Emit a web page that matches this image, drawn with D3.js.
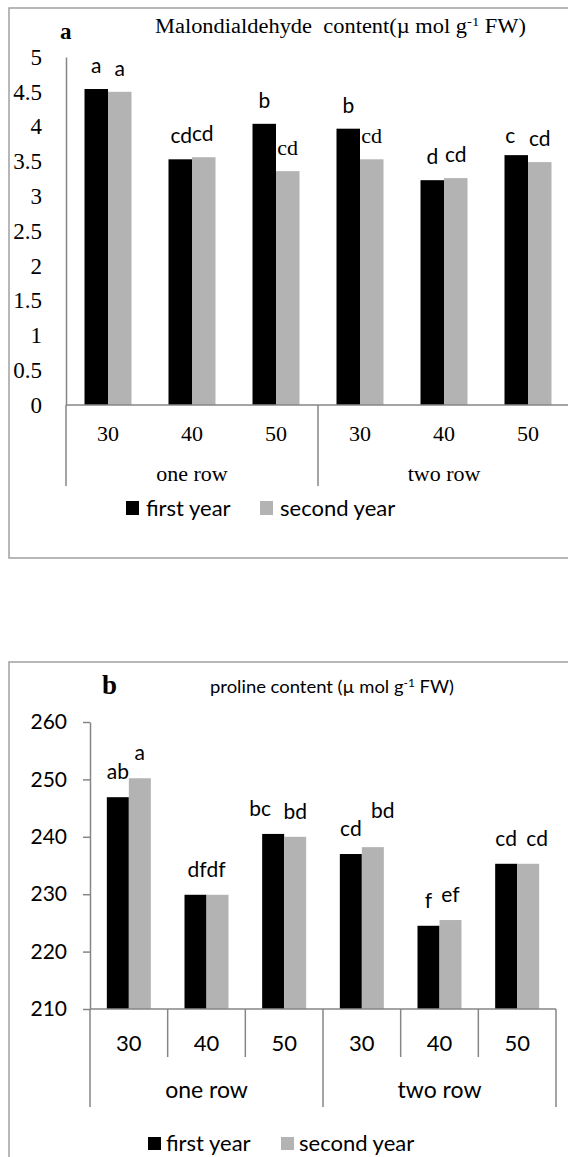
<!DOCTYPE html>
<html>
<head>
<meta charset="utf-8">
<script src="https://cdn.jsdelivr.net/npm/d3@7"></script>
<style>
  body { margin: 0; background: #fff; }
  svg { display: block; }
  .serif { font-family: "Liberation Serif", "Times New Roman", serif; }
  .sans { font-family: Lato, "Open Sans", sans-serif; }
</style>
</head>
<body>
<svg id="fig" width="568" height="1157"></svg>
<script>
// data
var groups = ["one row", "two row"];
var spacings = ["30", "40", "50", "30", "40", "50"];
var years = ["first year", "second year"];

var mdaFirst = [4.54, 3.53, 4.04, 3.97, 3.23, 3.59];
var mdaSecond = [4.50, 3.56, 3.36, 3.53, 3.26, 3.49];
var mdaLetFirst = ["a", "cd", "b", "b", "d", "c"];
var mdaLetSecond = ["a", "cd", "cd", "cd", "cd", "cd"];
var mdaTicks = [0, 0.5, 1, 1.5, 2, 2.5, 3, 3.5, 4, 4.5, 5];

var proFirst = [246.9, 229.9, 240.5, 237.0, 224.5, 235.3];
var proSecond = [250.2, 229.9, 240.0, 238.2, 225.5, 235.3];
var proLetFirst = ["ab", "df", "bc", "cd", "f", "cd"];
var proLetSecond = ["a", "df", "bd", "bd", "ef", "cd"];
var proTicks = [210, 220, 230, 240, 250, 260];

var colors = { "first year": "#000000", "second year": "#b3b3b3" };
var axisGrey = "#868686";

// hand placed letters in the source figure: [dx, dy] nudges, keyed group-year
var nudgeA = { "1-0": [1, 0], "1-1": [-1, 0], "5-0": [-6, 4] };
var nudgeB = { "1-0": [1.5, 0], "1-1": [-1.5, 0], "2-0": [-13, 0], "3-1": [10, -11], "5-1": [9, 0] };

var svg = d3.select("#fig");

function rows(first, second, letFirst, letSecond) {
  return spacings.map(function(s, i) {
    return {
      i: i,
      vals: [
        { i: i, k: 0, year: years[0], v: first[i], lab: letFirst[i] },
        { i: i, k: 1, year: years[1], v: second[i], lab: letSecond[i] }
      ]
    };
  });
}
function nud(map, d, j) { var n = map[d.i + "-" + d.k]; return n ? n[j] : 0; }

// ---------- chart a : malondialdehyde ----------
(function() {
  var g = svg.append("g");
  g.append("rect").attr("x", 9).attr("y", 8).attr("width", 620).attr("height", 550)
    .attr("fill", "none").attr("stroke", "#a0a0a0").attr("stroke-width", 1.5);

  var y = d3.scaleLinear().domain([0, 5]).range([405, 57]);
  var x0 = d3.scaleBand().domain(d3.range(6)).range([66, 570]);
  var x1 = d3.scaleBand().domain(years).range([-23.5, 23.5]);

  var yAxis = d3.axisLeft(y).tickValues(mdaTicks).tickFormat(d3.format("~g"))
    .tickSizeInner(0).tickSizeOuter(0).tickPadding(24);
  var ya = g.append("g").attr("transform", "translate(66,0)").call(yAxis);
  ya.select(".domain").attr("stroke", axisGrey).attr("stroke-width", 1.5);
  ya.selectAll("text").attr("class", "serif").attr("font-size", 23).attr("fill", "#000");

  var data = rows(mdaFirst, mdaSecond, mdaLetFirst, mdaLetSecond);
  var grp = g.selectAll(".grp").data(data).enter().append("g")
    .attr("transform", function(d) { return "translate(" + (x0(d.i) + x0.bandwidth() / 2) + ",0)"; });
  grp.selectAll("rect").data(function(d) { return d.vals; }).enter().append("rect")
    .attr("x", function(d) { return x1(d.year); })
    .attr("width", x1.bandwidth())
    .attr("y", function(d) { return y(d.v); })
    .attr("height", function(d) { return y(0) - y(d.v); })
    .attr("fill", function(d) { return colors[d.year]; });

  // letters above bars; two of them were set in Times in the source
  var serifLab = { "2-1": true, "3-1": true };
  grp.selectAll("text").data(function(d) { return d.vals; }).enter().append("text")
    .attr("class", function(d) { return serifLab[d.i + "-" + d.k] ? "serif" : "sans"; })
    .attr("x", function(d) { return x1(d.year) + x1.bandwidth() / 2 + nud(nudgeA, d, 0); })
    .attr("y", function(d) { return y(d.v) - 16 + nud(nudgeA, d, 1); })
    .attr("text-anchor", "middle")
    .attr("font-size", function(d) { return serifLab[d.i + "-" + d.k] ? 22 : 21; })
    .text(function(d) { return d.lab; });

  // baseline and category axis
  g.append("line").attr("x1", 66).attr("x2", 568).attr("y1", y(0)).attr("y2", y(0))
    .attr("stroke", axisGrey).attr("stroke-width", 1.5);
  [0, 3].forEach(function(k) {
    g.append("line").attr("x1", x0(k)).attr("x2", x0(k)).attr("y1", y(0)).attr("y2", 486)
      .attr("stroke", axisGrey).attr("stroke-width", 1.5);
  });
  g.selectAll(".xl").data(spacings).enter().append("text").attr("class", "serif")
    .attr("x", function(d, i) { return x0(i) + x0.bandwidth() / 2; })
    .attr("y", 433).attr("dy", "0.35em").attr("text-anchor", "middle").attr("font-size", 22)
    .text(function(d) { return d; });
  g.selectAll(".gl").data(groups).enter().append("text").attr("class", "serif")
    .attr("x", function(d, i) { return (x0(i * 3) + x0(i * 3 + 2) + x0.bandwidth()) / 2; })
    .attr("y", 473).attr("dy", "0.35em").attr("text-anchor", "middle").attr("font-size", 22)
    .text(function(d) { return d; });

  // legend
  var lx = [126, 260];
  var leg = g.selectAll(".leg").data(years).enter().append("g")
    .attr("transform", function(d, i) { return "translate(" + lx[i] + ",501)"; });
  leg.append("rect").attr("width", 13).attr("height", 14).attr("fill", function(d) { return colors[d]; });
  leg.append("text").attr("class", "sans").attr("x", 20).attr("y", 7).attr("dy", "0.35em")
    .attr("font-size", 22).text(function(d) { return d; });

  // titles
  g.append("text").attr("class", "serif").attr("x", 60).attr("y", 39)
    .attr("font-size", 23).attr("font-weight", "bold").text("a");
  var t = g.append("text").attr("class", "serif").attr("x", 155).attr("y", 33).attr("font-size", 20)
    .attr("textLength", 371).attr("lengthAdjust", "spacingAndGlyphs");
  t.append("tspan").text("Malondialdehyde\u00a0 content(\u00b5 mol g");
  t.append("tspan").attr("font-size", 13).attr("dy", -7).text("-1");
  t.append("tspan").attr("dy", 7).text(" FW)");
})();

// ---------- chart b : proline ----------
(function() {
  var g = svg.append("g");
  g.append("rect").attr("x", 9).attr("y", 662).attr("width", 620).attr("height", 600)
    .attr("fill", "none").attr("stroke", "#a0a0a0").attr("stroke-width", 1.5);

  var y = d3.scaleLinear().domain([210, 260]).range([1009, 722]);
  var x0 = d3.scaleBand().domain(d3.range(6)).range([90, 556]);
  var x1 = d3.scaleBand().domain(years).range([-22, 22]);

  var yAxis = d3.axisLeft(y).tickValues(proTicks).tickSizeInner(7).tickSizeOuter(0).tickPadding(16);
  var ya = g.append("g").attr("transform", "translate(90,0)").call(yAxis);
  ya.select(".domain").attr("stroke", axisGrey).attr("stroke-width", 1.5);
  ya.selectAll("line").attr("stroke", axisGrey).attr("stroke-width", 1.5);
  ya.selectAll("text").attr("class", "sans").attr("font-size", 21).attr("fill", "#000");

  var data = rows(proFirst, proSecond, proLetFirst, proLetSecond);
  var grp = g.selectAll(".grp").data(data).enter().append("g")
    .attr("transform", function(d) { return "translate(" + (x0(d.i) + x0.bandwidth() / 2) + ",0)"; });
  grp.selectAll("rect").data(function(d) { return d.vals; }).enter().append("rect")
    .attr("x", function(d) { return x1(d.year); })
    .attr("width", x1.bandwidth())
    .attr("y", function(d) { return y(d.v); })
    .attr("height", function(d) { return y(210) - y(d.v); })
    .attr("fill", function(d) { return colors[d.year]; });
  grp.selectAll("text").data(function(d) { return d.vals; }).enter().append("text")
    .attr("class", "sans")
    .attr("x", function(d) { return x1(d.year) + x1.bandwidth() / 2 + nud(nudgeB, d, 0); })
    .attr("y", function(d) { return y(d.v) - 18 + nud(nudgeB, d, 1); })
    .attr("text-anchor", "middle").attr("font-size", 21)
    .text(function(d) { return d.lab; });

  // baseline and category axis
  g.append("line").attr("x1", 90).attr("x2", 556).attr("y1", y(210)).attr("y2", y(210))
    .attr("stroke", axisGrey).attr("stroke-width", 1.5);
  d3.range(7).forEach(function(k) {
    var xx = k < 6 ? x0(k) : x0(5) + x0.bandwidth();
    var long = (k % 3 === 0);
    g.append("line").attr("x1", xx).attr("x2", xx).attr("y1", y(210)).attr("y2", long ? 1107 : 1057)
      .attr("stroke", axisGrey).attr("stroke-width", 1.5);
  });
  g.selectAll(".xl").data(spacings).enter().append("text").attr("class", "sans")
    .attr("x", function(d, i) { return x0(i) + x0.bandwidth() / 2; })
    .attr("y", 1043).attr("dy", "0.35em").attr("text-anchor", "middle").attr("font-size", 22)
    .text(function(d) { return d; });
  g.selectAll(".gl").data(groups).enter().append("text").attr("class", "sans")
    .attr("x", function(d, i) { return (x0(i * 3) + x0(i * 3 + 2) + x0.bandwidth()) / 2; })
    .attr("y", 1090).attr("dy", "0.35em").attr("text-anchor", "middle").attr("font-size", 23)
    .text(function(d) { return d; });

  // legend
  var lx = [148, 281];
  var leg = g.selectAll(".leg").data(years).enter().append("g")
    .attr("transform", function(d, i) { return "translate(" + lx[i] + ",1137)"; });
  leg.append("rect").attr("width", 13).attr("height", 13).attr("fill", function(d) { return colors[d]; });
  leg.append("text").attr("class", "sans").attr("x", 18).attr("y", 6.5).attr("dy", "0.35em")
    .attr("font-size", 22).text(function(d) { return d; });

  // titles
  g.append("text").attr("class", "serif").attr("x", 102).attr("y", 694)
    .attr("font-size", 27).attr("font-weight", "bold").text("b");
  var t = g.append("text").attr("class", "sans").attr("x", 210).attr("y", 693).attr("font-size", 17)
    .attr("textLength", 244).attr("lengthAdjust", "spacingAndGlyphs");
  t.append("tspan").text("proline content (\u00b5 mol g");
  t.append("tspan").attr("font-size", 11).attr("dy", -6).text("-1");
  t.append("tspan").attr("dy", 6).text(" FW)");
})();
</script>
</body>
</html>
